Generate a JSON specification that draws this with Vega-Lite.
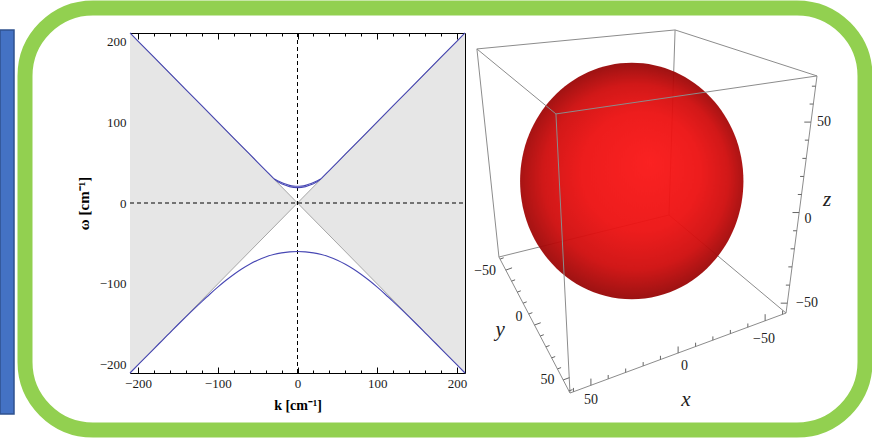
{
  "$schema": "https://vega.github.io/schema/vega-lite/v6.json",
  "width": 840,
  "height": 422,
  "autosize": {"type": "none"},
  "padding": {"left": 25, "top": 8, "right": 7, "bottom": 8},
  "background": "white",
  "config": {
    "view": {"stroke": "#92D050", "strokeWidth": 15, "cornerRadius": 68, "fill": "white"},
    "axis": {
      "grid": false,
      "domainColor": "#000000",
      "domainWidth": 1,
      "tickColor": "#000000",
      "tickWidth": 1,
      "labelFont": "Liberation Serif",
      "labelFontSize": 13,
      "labelColor": "#1a1a1a",
      "titleFont": "Liberation Serif",
      "titleFontSize": 14,
      "titleFontWeight": "bold",
      "titleColor": "#000000",
      "zindex": 1
    }
  },
  "layer": [
    {
      "data": {"values": [{"panel": "sidebar"}]},
      "mark": {"type": "rect", "fill": "#4472C4", "stroke": "#2F528F", "strokeWidth": 1.5},
      "encoding": {
        "x": {"datum": 0, "type": "quantitative", "scale": {"domain": [0, 1], "range": [-25, -11], "nice": false, "zero": false}, "axis": null},
        "x2": {"datum": 1},
        "y": {"datum": 0, "type": "quantitative", "scale": {"domain": [0, 1], "range": [22, 406], "nice": false, "zero": false}, "axis": null},
        "y2": {"datum": 1}
      }
    },
    {
      "layer": [
        {
          "data": {"values": [
            {"k": -210, "lo": -210, "hi": 210},
            {"k": 0, "lo": 0, "hi": 0},
            {"k": 210, "lo": -210, "hi": 210}
          ]},
          "mark": {"type": "area", "color": "#e6e6e6", "opacity": 1},
          "encoding": {
            "x": {"field": "k", "type": "quantitative",
              "scale": {"domain": [-210, 210], "range": [105, 440], "nice": false, "zero": false},
              "axis": {"orient": "bottom", "offset": -57, "values": [-200, -100, 0, 100, 200], "tickSize": -6, "labelPadding": 10, "title": "k [cm⁻¹]", "titlePadding": 8}},
            "y": {"field": "lo", "type": "quantitative",
              "scale": {"domain": [-210, 210], "range": [365, 25], "nice": false, "zero": false},
              "axis": {"orient": "left", "offset": -105, "values": [-200, -100, 0, 100, 200], "tickSize": -6, "labelPadding": 10, "title": "ω [cm⁻¹]", "titlePadding": 8, "titleFontSize": 15}},
            "y2": {"field": "hi"}
          }
        },
        {
          "data": {"values": [
            {"branch": "rising", "k": -210, "w": -210},
            {"branch": "rising", "k": 210, "w": 210},
            {"branch": "falling", "k": -210, "w": 210},
            {"branch": "falling", "k": 210, "w": -210}
          ]},
          "mark": {"type": "line", "color": "#a6a6a6", "strokeWidth": 1},
          "encoding": {
            "x": {"field": "k", "type": "quantitative",
              "axis": {"orient": "bottom", "offset": -57, "values": [-180, -160, -140, -120, -80, -60, -40, -20, 20, 40, 60, 80, 120, 140, 160, 180], "tickSize": -3, "labels": false, "domain": false, "title": null}},
            "y": {"field": "w", "type": "quantitative",
              "axis": {"orient": "left", "offset": -105, "values": [-180, -160, -140, -120, -80, -60, -40, -20, 20, 40, 60, 80, 120, 140, 160, 180], "tickSize": -3, "labels": false, "domain": false, "title": null}},
            "detail": {"field": "branch"}
          }
        },
        {
          "data": {"values": [{"axis": "k = 0"}]},
          "mark": {"type": "rule", "color": "#000000", "strokeWidth": 1, "strokeDash": [4, 3]},
          "encoding": {
            "x": {"datum": 0, "type": "quantitative", "axis": null},
            "y": {"datum": -210, "type": "quantitative", "axis": null},
            "y2": {"datum": 210}
          }
        },
        {
          "data": {"values": [{"axis": "ω = 0"}]},
          "mark": {"type": "rule", "color": "#000000", "strokeWidth": 1, "strokeDash": [4, 3]},
          "encoding": {
            "y": {"datum": 0, "type": "quantitative", "axis": null},
            "x": {"datum": -210, "type": "quantitative", "axis": null},
            "x2": {"datum": 210}
          }
        },
        {
          "data": {"values": [
            {"k": -210, "w": 210.1}, {"k": -200, "w": 200.1}, {"k": -180, "w": 180.1}, {"k": -160, "w": 160.1},
            {"k": -140, "w": 140.1}, {"k": -120, "w": 120.2}, {"k": -100, "w": 100.2}, {"k": -80, "w": 80.2},
            {"k": -60, "w": 60.3}, {"k": -50, "w": 50.3}, {"k": -40, "w": 40.4}, {"k": -34, "w": 34.4},
            {"k": -30, "w": 30.5}, {"k": -27, "w": 27.9}, {"k": -24, "w": 26.0}, {"k": -20, "w": 23.9},
            {"k": -15, "w": 21.8}, {"k": -10, "w": 20.2}, {"k": -5, "w": 19.3}, {"k": 0, "w": 19.0},
            {"k": 5, "w": 19.3}, {"k": 10, "w": 20.2}, {"k": 15, "w": 21.8}, {"k": 20, "w": 23.9},
            {"k": 24, "w": 26.0}, {"k": 27, "w": 27.9}, {"k": 30, "w": 30.5}, {"k": 34, "w": 34.4},
            {"k": 40, "w": 40.4}, {"k": 50, "w": 50.3}, {"k": 60, "w": 60.3}, {"k": 80, "w": 80.2},
            {"k": 100, "w": 100.2}, {"k": 120, "w": 120.2}, {"k": 140, "w": 140.1}, {"k": 160, "w": 160.1},
            {"k": 180, "w": 180.1}, {"k": 200, "w": 200.1}, {"k": 210, "w": 210.1}
          ]},
          "mark": {"type": "line", "color": "#4848b4", "strokeWidth": 1.1},
          "encoding": {
            "x": {"field": "k", "type": "quantitative",
              "axis": {"orient": "top", "offset": -25, "values": [-200, -100, 0, 100, 200], "tickSize": -6, "labels": false, "title": null}},
            "y": {"field": "w", "type": "quantitative",
              "axis": {"orient": "right", "offset": -400, "values": [-200, -100, 0, 100, 200], "tickSize": -6, "labels": false, "title": null}}
          }
        },
        {
          "data": {"values": [
            {"k": -29, "w": 29.6}, {"k": -25, "w": 27.6}, {"k": -20, "w": 25.4}, {"k": -15, "w": 23.4},
            {"k": -10, "w": 21.8}, {"k": -5, "w": 20.9}, {"k": 0, "w": 20.6}, {"k": 5, "w": 20.9},
            {"k": 10, "w": 21.8}, {"k": 15, "w": 23.4}, {"k": 20, "w": 25.4}, {"k": 25, "w": 27.6},
            {"k": 29, "w": 29.6}
          ]},
          "mark": {"type": "line", "color": "#4848b4", "strokeWidth": 1.1, "interpolate": "monotone"},
          "encoding": {
            "x": {"field": "k", "type": "quantitative",
              "axis": {"orient": "top", "offset": -25, "values": [-180, -160, -140, -120, -80, -60, -40, -20, 20, 40, 60, 80, 120, 140, 160, 180], "tickSize": -3, "labels": false, "domain": false, "title": null}},
            "y": {"field": "w", "type": "quantitative",
              "axis": {"orient": "right", "offset": -400, "values": [-180, -160, -140, -120, -80, -60, -40, -20, 20, 40, 60, 80, 120, 140, 160, 180], "tickSize": -3, "labels": false, "domain": false, "title": null}}
          }
        },
        {
          "data": {"values": [
            {"k": -210, "w": -210.0}, {"k": -200, "w": -200.0}, {"k": -190, "w": -190.0}, {"k": -180, "w": -180.1},
            {"k": -170, "w": -170.2}, {"k": -160, "w": -160.3}, {"k": -150, "w": -150.4}, {"k": -140, "w": -140.7},
            {"k": -130, "w": -131.1}, {"k": -120, "w": -121.8}, {"k": -110, "w": -112.7}, {"k": -100, "w": -104.0},
            {"k": -90, "w": -95.8}, {"k": -80, "w": -88.3}, {"k": -70, "w": -81.5}, {"k": -60, "w": -75.6},
            {"k": -50, "w": -70.6}, {"k": -40, "w": -66.6}, {"k": -30, "w": -63.6}, {"k": -20, "w": -61.6},
            {"k": -10, "w": -60.4}, {"k": 0, "w": -60.0}, {"k": 10, "w": -60.4}, {"k": 20, "w": -61.6},
            {"k": 30, "w": -63.6}, {"k": 40, "w": -66.6}, {"k": 50, "w": -70.6}, {"k": 60, "w": -75.6},
            {"k": 70, "w": -81.5}, {"k": 80, "w": -88.3}, {"k": 90, "w": -95.8}, {"k": 100, "w": -104.0},
            {"k": 110, "w": -112.7}, {"k": 120, "w": -121.8}, {"k": 130, "w": -131.1}, {"k": 140, "w": -140.7},
            {"k": 150, "w": -150.4}, {"k": 160, "w": -160.3}, {"k": 170, "w": -170.2}, {"k": 180, "w": -180.1},
            {"k": 190, "w": -190.0}, {"k": 200, "w": -200.0}, {"k": 210, "w": -210.0}
          ]},
          "mark": {"type": "line", "color": "#4848b4", "strokeWidth": 1.1, "interpolate": "monotone"},
          "encoding": {
            "x": {"field": "k", "type": "quantitative", "axis": null},
            "y": {"field": "w", "type": "quantitative", "axis": null}
          }
        }
      ],
      "resolve": {"axis": {"x": "independent", "y": "independent"}}
    },
    {
      "layer": [
        {
          "data": {"values": [
            {"edge": "B-F", "side": "back", "u1": 23.2, "v1": 79.5, "u2": 20.0, "v2": -17.9},
            {"edge": "E-F", "side": "back", "u1": -69.5, "v1": -40.0, "u2": 20.0, "v2": -17.9},
            {"edge": "F-G", "side": "back", "u1": 20.0, "v1": -17.9, "u2": 81.6, "v2": -69.5}
          ]},
          "mark": {"type": "rule", "color": "#8c8c8c", "strokeWidth": 1},
          "encoding": {
            "x": {"field": "u1", "type": "quantitative", "scale": {"domain": [-90, 120], "range": [435, 834], "nice": false, "zero": false}, "axis": null},
            "y": {"field": "v1", "type": "quantitative", "scale": {"domain": [-130, 100], "range": [420, -17], "nice": false, "zero": false}, "axis": null},
            "x2": {"field": "u2"},
            "y2": {"field": "v2"}
          }
        },
        {
          "data": {"values": [{"body": "sphere", "u": 0.4, "v": 0}]},
          "mark": {
            "type": "point",
            "filled": true,
            "shape": "M -0.944 0 A 0.944 1 0 1 1 0.944 0 A 0.944 1 0 1 1 -0.944 0 Z",
            "size": 55980,
            "opacity": 0.95,
            "strokeWidth": 0,
            "color": {
              "gradient": "radial",
              "x1": 0.58, "y1": 0.42, "r1": 0,
              "x2": 0.5, "y2": 0.5, "r2": 0.5,
              "stops": [
                {"offset": 0, "color": "#fa1616"},
                {"offset": 0.5, "color": "#ec1111"},
                {"offset": 0.78, "color": "#cf0c0c"},
                {"offset": 1, "color": "#960606"}
              ]
            }
          },
          "encoding": {
            "x": {"field": "u", "type": "quantitative", "axis": null},
            "y": {"field": "v", "type": "quantitative", "axis": null}
          }
        },
        {
          "data": {"values": [
            {"edge": "A-B", "u1": -81.1, "v1": 69.5, "u2": 23.2, "v2": 79.5},
            {"edge": "B-C", "u1": 23.2, "v1": 79.5, "u2": 97.9, "v2": 55.3},
            {"edge": "C-D", "u1": 97.9, "v1": 55.3, "u2": -39.5, "v2": 35.3},
            {"edge": "D-A", "u1": -39.5, "v1": 35.3, "u2": -81.1, "v2": 69.5},
            {"edge": "A-E", "u1": -81.1, "v1": 69.5, "u2": -69.5, "v2": -40.0},
            {"edge": "C-G", "u1": 97.9, "v1": 55.3, "u2": 81.6, "v2": -69.5},
            {"edge": "D-H", "u1": -39.5, "v1": 35.3, "u2": -32.1, "v2": -111.6},
            {"edge": "E-H", "u1": -69.5, "v1": -40.0, "u2": -32.1, "v2": -111.6},
            {"edge": "H-G", "u1": -32.1, "v1": -111.6, "u2": 81.6, "v2": -69.5}
          ]},
          "mark": {"type": "rule", "color": "#8c8c8c", "strokeWidth": 1},
          "encoding": {
            "x": {"field": "u1", "type": "quantitative", "axis": null},
            "y": {"field": "v1", "type": "quantitative", "axis": null},
            "x2": {"field": "u2"},
            "y2": {"field": "v2"}
          }
        },
        {
          "data": {"values": [
            {"axis": "x", "value": 60, "u1": -30.3, "v1": -110.9, "u2": -30.3, "v2": -108.9},
            {"axis": "x", "value": 50, "u1": -21.1, "v1": -107.5, "u2": -21.1, "v2": -104.0},
            {"axis": "x", "value": 40, "u1": -12.0, "v1": -104.1, "u2": -12.0, "v2": -102.1},
            {"axis": "x", "value": 30, "u1": -2.8, "v1": -100.7, "u2": -2.8, "v2": -98.7},
            {"axis": "x", "value": 20, "u1": 6.4, "v1": -97.3, "u2": 6.4, "v2": -95.3},
            {"axis": "x", "value": 10, "u1": 15.5, "v1": -94.0, "u2": 15.5, "v2": -92.0},
            {"axis": "x", "value": 0, "u1": 24.8, "v1": -90.6, "u2": 24.8, "v2": -87.1},
            {"axis": "x", "value": -10, "u1": 34.0, "v1": -87.1, "u2": 34.0, "v2": -85.1},
            {"axis": "x", "value": -20, "u1": 43.1, "v1": -83.8, "u2": 43.1, "v2": -81.8},
            {"axis": "x", "value": -30, "u1": 52.3, "v1": -80.4, "u2": 52.3, "v2": -78.4},
            {"axis": "x", "value": -40, "u1": 61.5, "v1": -77.0, "u2": 61.5, "v2": -75.0},
            {"axis": "x", "value": -50, "u1": 70.6, "v1": -73.6, "u2": 70.6, "v2": -70.1},
            {"axis": "x", "value": -60, "u1": 79.8, "v1": -70.2, "u2": 79.8, "v2": -68.2},
            {"axis": "y", "value": -60, "u1": -68.9, "v1": -41.1, "u2": -67.0, "v2": -40.4},
            {"axis": "y", "value": -50, "u1": -65.9, "v1": -46.9, "u2": -62.6, "v2": -45.7},
            {"axis": "y", "value": -40, "u1": -62.9, "v1": -52.7, "u2": -61.0, "v2": -52.0},
            {"axis": "y", "value": -30, "u1": -59.9, "v1": -58.5, "u2": -58.0, "v2": -57.8},
            {"axis": "y", "value": -20, "u1": -56.8, "v1": -64.3, "u2": -54.9, "v2": -63.6},
            {"axis": "y", "value": -10, "u1": -53.8, "v1": -70.0, "u2": -51.9, "v2": -69.3},
            {"axis": "y", "value": 0, "u1": -50.8, "v1": -75.8, "u2": -47.5, "v2": -74.6},
            {"axis": "y", "value": 10, "u1": -47.8, "v1": -81.6, "u2": -45.9, "v2": -80.9},
            {"axis": "y", "value": 20, "u1": -44.8, "v1": -87.3, "u2": -42.9, "v2": -86.6},
            {"axis": "y", "value": 30, "u1": -41.8, "v1": -93.1, "u2": -39.9, "v2": -92.4},
            {"axis": "y", "value": 40, "u1": -38.7, "v1": -98.9, "u2": -36.8, "v2": -98.2},
            {"axis": "y", "value": 50, "u1": -35.7, "v1": -104.7, "u2": -32.4, "v2": -103.5},
            {"axis": "y", "value": 60, "u1": -32.7, "v1": -110.5, "u2": -30.8, "v2": -109.8},
            {"axis": "z", "value": -50, "u1": 82.3, "v1": -64.3, "u2": 78.8, "v2": -64.3},
            {"axis": "z", "value": -40, "u1": 83.5, "v1": -54.8, "u2": 81.5, "v2": -54.8},
            {"axis": "z", "value": -30, "u1": 84.8, "v1": -45.2, "u2": 82.8, "v2": -45.2},
            {"axis": "z", "value": -20, "u1": 86.0, "v1": -35.7, "u2": 84.0, "v2": -35.7},
            {"axis": "z", "value": -10, "u1": 87.3, "v1": -26.2, "u2": 85.3, "v2": -26.2},
            {"axis": "z", "value": 0, "u1": 88.5, "v1": -16.6, "u2": 85.0, "v2": -16.6},
            {"axis": "z", "value": 10, "u1": 89.8, "v1": -7.1, "u2": 87.8, "v2": -7.1},
            {"axis": "z", "value": 20, "u1": 91.0, "v1": 2.4, "u2": 89.0, "v2": 2.4},
            {"axis": "z", "value": 30, "u1": 92.2, "v1": 11.9, "u2": 90.2, "v2": 11.9},
            {"axis": "z", "value": 40, "u1": 93.5, "v1": 21.5, "u2": 91.5, "v2": 21.5},
            {"axis": "z", "value": 50, "u1": 94.7, "v1": 31.0, "u2": 91.2, "v2": 31.0},
            {"axis": "z", "value": 60, "u1": 96.0, "v1": 40.5, "u2": 94.0, "v2": 40.5},
            {"axis": "z", "value": 70, "u1": 97.2, "v1": 49.9, "u2": 95.2, "v2": 49.9}
          ]},
          "mark": {"type": "rule", "color": "#666666", "strokeWidth": 1},
          "encoding": {
            "x": {"field": "u1", "type": "quantitative", "axis": null},
            "y": {"field": "v1", "type": "quantitative", "axis": null},
            "x2": {"field": "u2"},
            "y2": {"field": "v2"}
          }
        },
        {
          "data": {"values": [
            {"axis": "x", "label": "−50", "u": 70.0, "v": -82.9},
            {"axis": "x", "label": "0", "u": 28.2, "v": -97.4},
            {"axis": "x", "label": "50", "u": -21.1, "v": -115.3},
            {"axis": "y", "label": "−50", "u": -76.8, "v": -47.6},
            {"axis": "y", "label": "0", "u": -58.9, "v": -71.8},
            {"axis": "y", "label": "50", "u": -43.9, "v": -104.7},
            {"axis": "z", "label": "50", "u": 101.6, "v": 31.1},
            {"axis": "z", "label": "0", "u": 93.2, "v": -20.0},
            {"axis": "z", "label": "−50", "u": 92.6, "v": -64.2}
          ]},
          "mark": {"type": "text", "font": "Liberation Serif", "fontSize": 14, "color": "#222222", "align": "center", "baseline": "middle"},
          "encoding": {
            "x": {"field": "u", "type": "quantitative", "axis": null},
            "y": {"field": "v", "type": "quantitative", "axis": null},
            "text": {"field": "label"}
          }
        },
        {
          "data": {"values": [
            {"label": "x", "u": 28.9, "v": -115.3},
            {"label": "y", "u": -68.9, "v": -78.4},
            {"label": "z", "u": 103.2, "v": -10.0}
          ]},
          "mark": {"type": "text", "font": "Liberation Serif", "fontSize": 21, "fontStyle": "italic", "color": "#222222", "align": "center", "baseline": "middle"},
          "encoding": {
            "x": {"field": "u", "type": "quantitative", "axis": null},
            "y": {"field": "v", "type": "quantitative", "axis": null},
            "text": {"field": "label"}
          }
        }
      ]
    }
  ],
  "resolve": {"scale": {"x": "independent", "y": "independent"}}
}
